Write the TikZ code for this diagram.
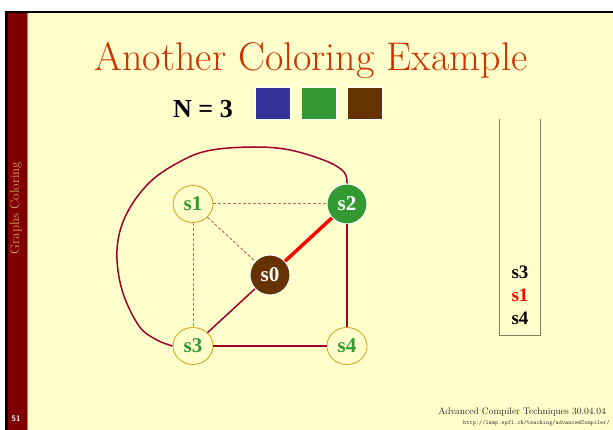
\documentclass[tikz,border=0pt]{standalone}
\usepackage{fontspec}
\newfontfamily\lsf{Liberation Serif}
\usetikzlibrary{shapes.geometric}
\definecolor{bgy}{HTML}{FFFFCC}
\definecolor{barred}{HTML}{800000}
\definecolor{titlec}{HTML}{CC3300}
\definecolor{ngreen}{HTML}{339933}
\definecolor{nblue}{HTML}{333399}
\definecolor{nbrown}{HTML}{663300}
\definecolor{edgec}{HTML}{A0002A}
\definecolor{dashc}{HTML}{CC6666}
\definecolor{gold}{HTML}{D4A017}
\definecolor{stackc}{HTML}{808060}
\definecolor{sidec}{HTML}{E0A060}
\begin{document}
\begin{tikzpicture}[x=1pt,y=-1pt,
  plainnode/.style={ellipse,draw=gold,line width=0.8pt,fill=bgy,minimum width=40pt,minimum height=37pt,inner sep=0pt,
    text=ngreen,font=\lsf\fontsize{21}{22}\selectfont\bfseries},
  fillnode/.style={circle,draw=white,line width=1pt,minimum size=40pt,inner sep=0pt,
    text=white,font=\lsf\fontsize{21}{22}\selectfont\bfseries},
  sq/.style={draw=white,line width=0.6pt,minimum width=35pt,minimum height=32pt,inner sep=0pt},
  soft/.style={dashc,line width=1pt,dash pattern=on 3pt off 2pt},
  hard/.style={edgec,line width=1.5pt},
  stk/.style={font=\lsf\fontsize{19}{20}\selectfont\bfseries,inner sep=0pt}]
\useasboundingbox (0,0) rectangle (613,430);
% frame
\fill[white] (0,0) rectangle (613,430);
\fill[bgy] (5,11) rectangle (613,430);
\fill[black] (5,11) rectangle (613,13.5);
\fill[black] (5,11) rectangle (7.5,430);
\fill[barred] (7.5,13.5) rectangle (27,430);
\fill[black!45] (27,13.5) rectangle (28,430);
\node[rotate=90,text=sidec,font=\fontsize{13}{14}\selectfont,inner sep=0pt] (side) at (16,208) {Graphs Coloring};
\node[text=white,font=\fontsize{8}{9}\selectfont\sffamily\bfseries,inner sep=0pt] (pg) at (16,419) {51};
% title
\node[text=titlec,font=\fontsize{40}{42}\selectfont,anchor=base,inner sep=0pt] (title) at (311,71) {Another Coloring Example};
\node[font=\lsf\fontsize{26}{28}\selectfont\bfseries,anchor=base west,inner sep=0pt] (N) at (173,118) {N = 3};
\node[sq,fill=nblue] (cb) at (272.5,103) {};
\node[sq,fill=ngreen] (cg) at (319,103) {};
\node[sq,fill=nbrown] (cr) at (364.5,103) {};
% nodes
\node[plainnode] (s1) at (193,204) {s1};
\node[fillnode,fill=ngreen] (s2) at (347,204) {s2};
\node[fillnode,fill=nbrown] (s0) at (270,275) {s0};
\node[plainnode] (s3) at (193,346) {s3};
\node[plainnode] (s4) at (347,346) {s4};
% edges
\draw[soft] (s1) -- (s2);
\draw[soft] (s1) -- (s0);
\draw[soft] (s1) -- (s3);
\draw[red,line width=3.5pt] (s2) -- (s0);
\draw[hard] (s0) -- (s3);
\draw[hard] (s3) -- (s4);
\draw[hard] (s2) -- (s4);
\draw[hard] plot[smooth,tension=0.6] coordinates {(s2.north) (344,172) (326,161) (290,150) (255,147) (212,150) (183,160) (150,182) (126,215) (117,250) (122,290) (139,326) (157,340) (s3.west)};
% stack
\coordinate (stl) at (499,119);
\coordinate (str) at (540,119);
\coordinate (sbl) at (499,335);
\coordinate (sbr) at (540,335);
\draw[stackc,line width=0.8pt] (stl) -- (sbl) -- (sbr) -- (str);
\node[stk] (k3) at (520,272) {s3};
\node[stk,text=red] (k1) at (520,295) {s1};
\node[stk] (k4) at (520,318) {s4};
% footer
\node[anchor=base east,font=\fontsize{9.5}{10}\selectfont,inner sep=0pt,text=black!85] (f1) at (606,414) {Advanced Compiler Techniques 30.04.04};
\node[anchor=base east,font=\fontsize{6}{7}\selectfont\ttfamily,inner sep=0pt,text=black!80] (f2) at (610,424) {http://lamp.epfl.ch/teaching/advancedCompiler/};
\end{tikzpicture}
\end{document}
